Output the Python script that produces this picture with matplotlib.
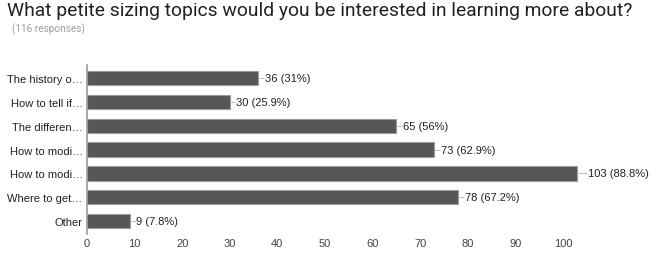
import matplotlib
matplotlib.use("Agg")
import matplotlib.pyplot as plt

categories = [
    "The history o\u2026",
    "How to tell if\u2026",
    "The differen\u2026",
    "How to modi\u2026",
    "How to modi\u2026",
    "Where to get\u2026",
    "Other",
]
counts = [36, 30, 65, 73, 103, 78, 9]
percents = ["31%", "25.9%", "56%", "62.9%", "88.8%", "67.2%", "7.8%"]
xticks = [0, 10, 20, 30, 40, 50, 60, 70, 80, 90, 100]

fig = plt.figure(figsize=(6.6, 2.55), dpi=100)
fig.text(0.011, 0.955, "What petite sizing topics would you be interested in learning more about?",
         fontsize=13.9, color="#212121", family="Roboto", va="center", ha="left")
fig.text(0.018, 0.885, "(116 responses)", fontsize=7.2, color="#9e9e9e",
         family="Roboto", va="center", ha="left")

ax = fig.add_axes([0.1318, 0.078, 0.8076, 0.663])
ypos = list(range(len(categories)))
ax.barh(ypos, counts, height=0.6, color="#565656", edgecolor="#9a9a9a", linewidth=0.8)

for y, c, p in zip(ypos, counts, percents):
    gap = 2.3 if c == max(counts) else 1.4
    ax.plot([c, c + gap - 0.2], [y, y], color="#c0c0c0", linewidth=0.8,
            solid_capstyle="butt")
    ax.text(c + gap, y, f"{c} ({p})", va="center", ha="left", fontsize=8,
            color="#222222", family="Liberation Sans")

ax.set_xlim(0, 112)
ax.set_ylim(6.55, -0.55)
ax.set_yticks(ypos)
ax.set_yticklabels(categories, family="Liberation Sans", fontsize=8, color="#222222")
ax.set_xticks(xticks)
ax.set_xticklabels([str(t) for t in xticks], family="Liberation Sans", fontsize=8,
                   color="#444444")
ax.tick_params(axis="both", length=0, pad=3)
for side in ["top", "right", "bottom"]:
    ax.spines[side].set_visible(False)
ax.spines["left"].set_color("#9a9a9a")
ax.spines["left"].set_linewidth(1.2)

fig.savefig("out.png", dpi=100)
